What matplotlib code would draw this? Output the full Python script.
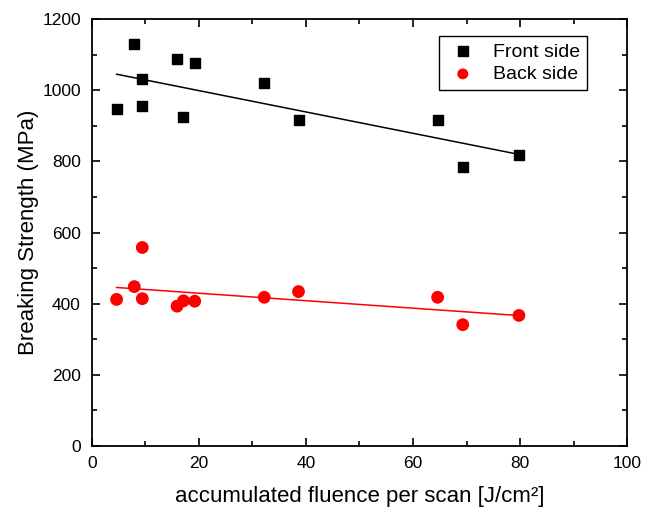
import numpy as np
import matplotlib
matplotlib.use("Agg")
import matplotlib.pyplot as plt
from matplotlib.ticker import MultipleLocator

plt.rcParams["font.family"] = ["Liberation Sans", "DejaVu Sans"]

# Data
fluence = [4.6, 7.9, 9.4, 9.4, 15.9, 17.1, 19.2, 32.2, 38.6, 64.6, 69.3, 79.8]
front = [946, 1129, 1031, 956, 1087, 925, 1076, 1019, 916, 916, 783, 817]
back = [412, 448, 414, 558, 393, 408, 407, 418, 434, 418, 341, 367]

fig = plt.figure(figsize=(6.46, 5.07), dpi=100)
ax = fig.add_axes([0.1424, 0.1203, 0.8282, 0.8422])

ax.scatter(fluence, front, marker="s", s=60, color="black", label="Front side", zorder=3)
ax.scatter(fluence, back, marker="o", s=85, color="red", edgecolors="none", label="Back side", zorder=3)

# Linear fits
xf = np.array([min(fluence), max(fluence) + 0.8])
for ys, c in [(front, "black"), (back, "red")]:
    k, b = np.polyfit(fluence, ys, 1)
    ax.plot(xf, k * xf + b, color=c, lw=1.1, zorder=2)

ax.set_xlim(0, 100)
ax.set_ylim(0, 1200)
ax.xaxis.set_major_locator(MultipleLocator(20))
ax.xaxis.set_minor_locator(MultipleLocator(10))
ax.yaxis.set_major_locator(MultipleLocator(200))
ax.yaxis.set_minor_locator(MultipleLocator(100))
ax.tick_params(which="both", direction="in", top=True, right=True, labelsize=12.5, width=1.2)
ax.tick_params(which="major", length=6)
ax.tick_params(which="minor", length=3.5)
ax.tick_params(axis="x", which="major", pad=7)
ax.tick_params(axis="y", which="major", pad=8)
for sp in ax.spines.values():
    sp.set_linewidth(1.3)

ax.set_xlabel("accumulated fluence per scan [J/cm²]", fontsize=16, labelpad=11)
ax.set_ylabel("Breaking Strength (MPa)", fontsize=16, labelpad=2)

leg = ax.legend(loc="upper right", bbox_to_anchor=(0.925, 0.960), borderaxespad=0,
                fontsize=14, fancybox=False, edgecolor="black", framealpha=1,
                handlelength=1.8, handletextpad=0.65, borderpad=0.35,
                labelspacing=0.25, markerscale=0.85)
leg.get_frame().set_linewidth(1.0)

fig.savefig("out.png", dpi=100)
